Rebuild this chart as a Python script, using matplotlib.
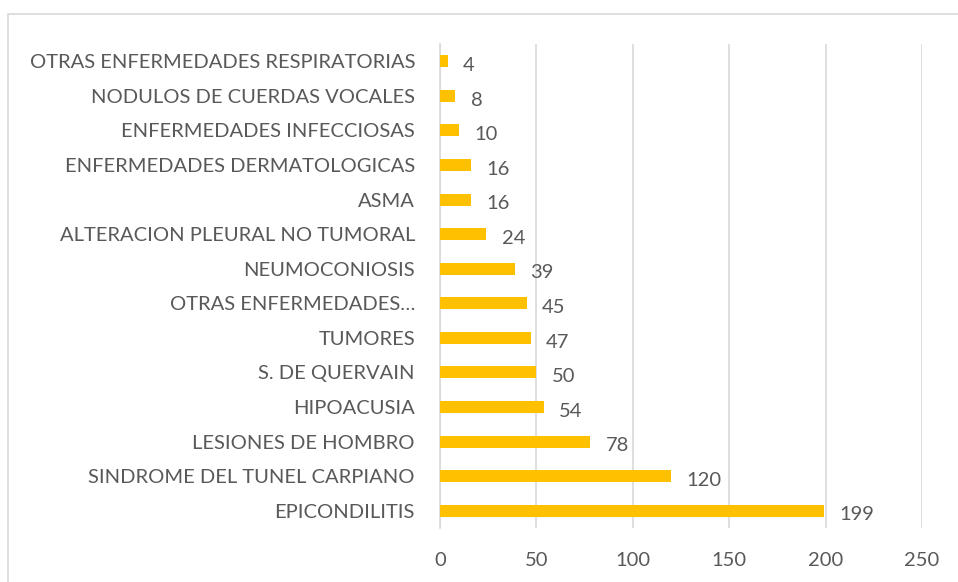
import matplotlib.pyplot as plt
from matplotlib.patches import Rectangle

# Datos (de abajo hacia arriba, como en el gráfico original)
categorias = [
    "EPICONDILITIS",
    "SINDROME DEL TUNEL CARPIANO",
    "LESIONES DE HOMBRO",
    "HIPOACUSIA",
    "S. DE QUERVAIN",
    "TUMORES",
    "OTRAS ENFERMEDADES…",
    "NEUMOCONIOSIS",
    "ALTERACION PLEURAL NO TUMORAL",
    "ASMA",
    "ENFERMEDADES DERMATOLOGICAS",
    "ENFERMEDADES INFECCIOSAS",
    "NODULOS DE CUERDAS VOCALES",
    "OTRAS ENFERMEDADES RESPIRATORIAS",
]
casos = [199, 120, 78, 54, 50, 47, 45, 39, 24, 16, 16, 10, 8, 4]
ticks_x = [0, 50, 100, 150, 200, 250]

texto = "#595959"
plt.rcParams['font.family'] = ['Lato', 'DejaVu Sans']

fig = plt.figure(figsize=(9.58, 5.82), dpi=100)
ax = fig.add_axes([440 / 958, 1 - 528 / 582, 482 / 958, 484 / 582])

# Borde exterior del gráfico
fig.patches.append(Rectangle((8 / 958, -0.1), 1.1, 1.1 - 14 / 582, transform=fig.transFigure,
                             fill=False, edgecolor="#D9D9D9", linewidth=1.2))

pos = range(len(categorias))
ax.barh(pos, casos, height=0.35, color="#FFC000", zorder=3)

for p, v in zip(pos, casos):
    ax.annotate(str(v), (v, p), xytext=(11, -3), textcoords="offset points",
                va="center", ha="left", fontsize=14.5, color=texto)

ax.set_xlim(0, 250)
ax.set_ylim(-0.5, len(categorias) - 0.5)
ax.set_xticks(ticks_x)
ax.set_yticks(list(pos))
ax.set_yticklabels(categorias)
ax.tick_params(axis="y", length=0, pad=18, labelsize=14.5, labelcolor=texto)
ax.tick_params(axis="x", length=0, pad=17, labelsize=14.5, labelcolor=texto)
ax.grid(axis="x", color="#D9D9D9", linewidth=1.2, zorder=0)
for s in ["top", "right", "bottom"]:
    ax.spines[s].set_visible(False)
ax.spines["left"].set_color("#D9D9D9")
ax.spines["left"].set_linewidth(1.2)

fig.savefig("out.png", dpi=100)
